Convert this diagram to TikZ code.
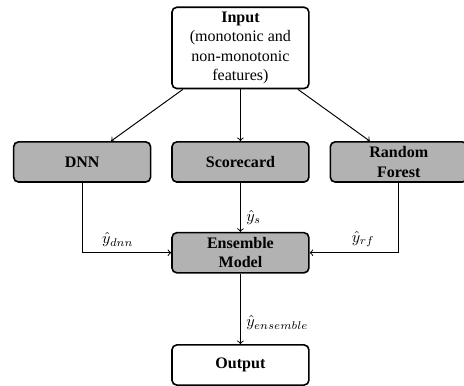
\documentclass[tikz,border=0pt]{standalone}
\usepackage{amsmath}
\usepackage{fontspec}
\setmainfont{Liberation Serif}
\usepackage{tikz}
\usetikzlibrary{positioning}

\tikzset{
  whitebox/.style={draw=black, line width=1pt, rounded corners=3pt, fill=white,
    minimum width=3cm, minimum height=0.88cm, inner sep=2pt, align=center},
  greybox/.style={whitebox, fill=black!30, font=\bfseries},
  flow/.style={->, semithick}
}

\begin{document}
\begin{tikzpicture}
\useasboundingbox (-5.27,-4.89) rectangle (4.90,3.55);
% first row: the three models
\node[greybox] (score) at (0,0) {Scorecard};
\node[greybox] (dnn) at (-3.47,0) {DNN};
\node[greybox] (forest) at (3.47,0) {Random\\Forest};
% input on top
\node[whitebox, inner sep=3pt] (input) at (0,2.5) {\textbf{Input}\\(monotonic and\\non-monotonic\\features)};
% ensemble and output
\node[greybox] (ens) at (0,-1.99) {Ensemble\\Model};
\node[whitebox, font=\bfseries] (out) at (0,-4.45) {Output};

\draw[flow] (input) -- (dnn);
\draw[flow] (input) -- (score);
\draw[flow] (input) -- (forest);
\draw[flow] (dnn) |- (ens) node[pos=0.7, above]{$\hat{y}_{dnn}$};
\draw[flow] (score) -- (ens) node[pos=0.7, right]{$\hat{y}_{s}$};
\draw[flow] (forest) |- (ens) node[pos=0.7, above]{$\hat{y}_{rf}$};
\draw[flow] (ens) -- (out) node[pos=0.7, right]{$\hat{y}_{ensemble}$};
\end{tikzpicture}
\end{document}
